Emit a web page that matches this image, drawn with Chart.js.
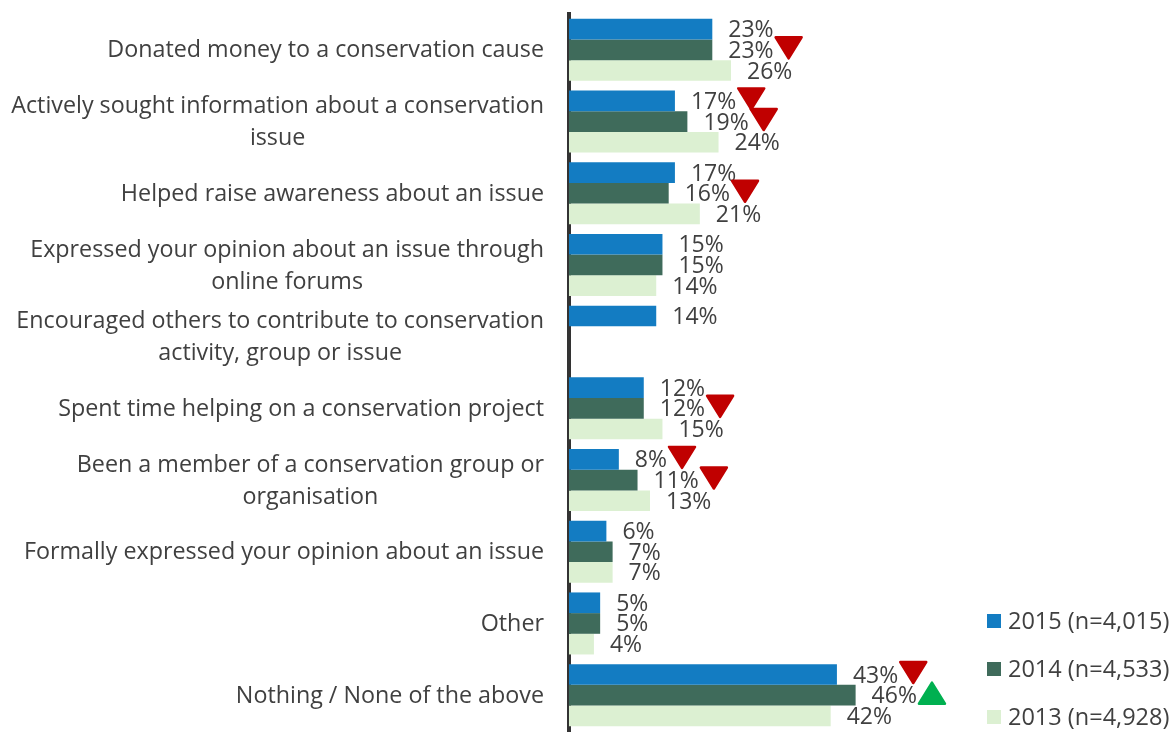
<!DOCTYPE html>
<html>
<head>
<meta charset="utf-8">
<script src="https://cdn.jsdelivr.net/npm/chart.js@4"></script>
<style>
  html, body { margin: 0; padding: 0; background: #ffffff; }
  #wrap { width: 1174px; height: 733px; }
</style>
</head>
<body>
<div id="wrap"><canvas id="c" width="1174" height="733"></canvas></div>
<script>
// Conservation activities in the last 12 months, by survey year
const categories = [
  'Donated money to a conservation cause',
  ['Actively sought information about a conservation', 'issue'],
  'Helped raise awareness about an issue',
  ['Expressed your opinion about an issue through', 'online forums'],
  ['Encouraged others to contribute to conservation', 'activity, group or issue'],
  'Spent time helping on a conservation project',
  ['Been a member of a conservation group or', 'organisation'],
  'Formally expressed your opinion about an issue',
  'Other',
  'Nothing / None of the above'
];

const seriesNames = ['2015 (n=4,015)', '2014 (n=4,533)', '2013 (n=4,928)'];

const values2015 = [23, 17, 17, 15, 14, 12, 8, 6, 5, 43];
const values2014 = [23, 19, 16, 15, null, 12, 11, 7, 5, 46];
const values2013 = [26, 24, 21, 14, null, 15, 13, 7, 4, 42];

// significant change vs previous wave: -1 = decrease, 1 = increase, 0 = none
const change2015 = [0, -1, 0, 0, 0, 0, -1, 0, 0, -1];
const change2014 = [-1, -1, -1, 0, 0, -1, -1, 0, 0, 1];
const change2013 = [0, 0, 0, 0, 0, 0, 0, 0, 0, 0];

const xMax = 65;

const TEXT = '#404040';
const FONT = '"Open Sans", "Liberation Sans", sans-serif';

// category names, right-aligned as blocks with centred lines
const categoryLabels = {
  id: 'categoryLabels',
  afterDraw(chart) {
    const ctx = chart.ctx;
    const y = chart.scales.y;
    const right = chart.chartArea.left - 25;
    const lh = 32;
    ctx.save();
    ctx.font = '23.3px ' + FONT;
    ctx.fillStyle = TEXT;
    ctx.textAlign = 'center';
    ctx.textBaseline = 'middle';
    categories.forEach((lab, i) => {
      const lines = Array.isArray(lab) ? lab : [lab];
      const w = Math.max(...lines.map(l => ctx.measureText(l).width));
      const cx = right - w / 2;
      const cy = y.getPixelForValue(i) + 1;
      const top = cy - (lines.length - 1) * lh / 2;
      lines.forEach((l, k) => ctx.fillText(l, cx, top + k * lh));
    });
    ctx.restore();
  }
};

// value labels and change markers beside each bar
const valueLabels = {
  id: 'valueLabels',
  afterDatasetsDraw(chart) {
    const ctx = chart.ctx;
    const changes = [change2015, change2014, change2013];
    ctx.save();
    ctx.font = '23px ' + FONT;
    ctx.textBaseline = 'middle';
    ctx.textAlign = 'left';
    chart.data.datasets.forEach((ds, di) => {
      const meta = chart.getDatasetMeta(di);
      meta.data.forEach((bar, i) => {
        const v = ds.data[i];
        if (v === null || v === undefined) return;
        const txt = v + '%';
        const tx = bar.x + 16;
        ctx.fillStyle = TEXT;
        ctx.fillText(txt, tx, bar.y + 1.5);
        const ch = changes[di][i];
        if (ch) {
          const w = ctx.measureText(txt).width;
          const left = tx + w + 2;
          const tw = 26, th = 21;
          const cy = bar.y - 2;
          ctx.beginPath();
          if (ch < 0) {
            ctx.moveTo(left, cy - th / 2);
            ctx.lineTo(left + tw, cy - th / 2);
            ctx.lineTo(left + tw / 2, cy + th / 2);
            ctx.fillStyle = '#C00000';
            ctx.strokeStyle = '#C00000';
          } else {
            ctx.moveTo(left, cy + th / 2);
            ctx.lineTo(left + tw, cy + th / 2);
            ctx.lineTo(left + tw / 2, cy - th / 2);
            ctx.fillStyle = '#00B050';
            ctx.strokeStyle = '#00B050';
          }
          ctx.closePath();
          ctx.lineJoin = 'round';
          ctx.lineWidth = 2.5;
          ctx.fill();
          ctx.stroke();
        }
      });
    });
    ctx.restore();
  }
};

// series key stacked in the lower right corner
const seriesKey = {
  id: 'seriesKey',
  afterDraw(chart) {
    const ctx = chart.ctx;
    const x = 987, size = 14, gap = 48;
    const last = 717;
    const n = chart.data.datasets.length;
    ctx.save();
    ctx.font = '23.5px ' + FONT;
    ctx.textBaseline = 'middle';
    ctx.textAlign = 'left';
    chart.data.datasets.forEach((ds, i) => {
      const cy = last - (n - 1 - i) * gap;
      ctx.fillStyle = ds.backgroundColor;
      ctx.fillRect(x, cy - size / 2, size, size);
      ctx.fillStyle = TEXT;
      ctx.fillText(ds.label, x + 21, cy + 1);
    });
    ctx.restore();
  }
};

new Chart(document.getElementById('c'), {
  type: 'bar',
  data: {
    labels: categories,
    datasets: [
      { label: seriesNames[0], data: values2015, backgroundColor: '#137CC2' },
      { label: seriesNames[1], data: values2014, backgroundColor: '#3F6B5B' },
      { label: seriesNames[2], data: values2013, backgroundColor: '#DCF0D2' }
    ]
  },
  options: {
    indexAxis: 'y',
    responsive: false,
    maintainAspectRatio: false,
    animation: false,
    layout: { padding: { top: 14, bottom: 2, left: 0, right: 200 } },
    datasets: { bar: { barPercentage: 1, categoryPercentage: 0.865 } },
    scales: {
      x: { display: false, min: 0, max: xMax },
      y: {
        z: 1,
        ticks: { display: false },
        grid: { display: false },
        border: { display: true, width: 4, color: '#333333' },
        afterFit(scale) { scale.width = 569; }
      }
    },
    plugins: {
      tooltip: { enabled: false },
      legend: { display: false }
    }
  },
  plugins: [categoryLabels, valueLabels, seriesKey]
});
</script>
</body>
</html>
